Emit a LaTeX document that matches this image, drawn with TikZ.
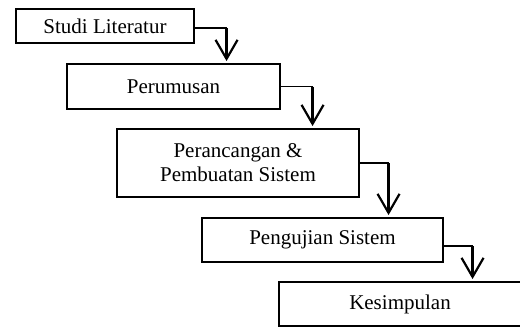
\documentclass[tikz,border=0pt]{standalone}
\usepackage{fontspec}
\setmainfont{Liberation Serif}
\usetikzlibrary{positioning,arrows.meta,calc}

\begin{document}
\begin{tikzpicture}[
    x=0.5pt, y=-0.5pt,
    box/.style={draw, line width=0.55pt, inner sep=0pt, align=center, minimum height=22pt, font=\fontsize{10.5}{12}\selectfont},
    link/.style={line width=0.55pt},
    arr/.style={-{Straight Barb[length=9.5pt, width=11pt, line width=1.1pt]}, line width=1.1pt, shorten >=1.2pt}
]
\useasboundingbox (0,0) rectangle (520,327);
\node[box, minimum width=89pt, minimum height=17pt] (lit) at (105,26) {Studi Literatur};
\node[box, minimum width=106.5pt, minimum height=22.5pt] (rum) at (173.5,86.5) {Perumusan};
\node[box, minimum width=121pt, minimum height=34pt] (ran) at (238,163) {Perancangan \&\\Pembuatan Sistem};
\node[box, minimum width=120.5pt] (uji) at (322.5,240) {Pengujian Sistem};
\node[box, minimum width=121pt] (kes) at (400,304) {Kesimpulan};
% connectors
\draw[link] ([yshift=-1pt]lit.east) -- ++(32,0) coordinate (t1);
\draw[arr] (t1) -- (t1 |- rum.north);
\draw[link] (rum.east) -- ++(32,0) coordinate (t2);
\draw[arr] (t2) -- (t2 |- ran.north);
\draw[link] (ran.east) -- ++(29,0) coordinate (t3);
\draw[arr] (t3) -- (t3 |- uji.north);
\draw[link] ([yshift=-3pt]uji.east) -- ++(29,0) coordinate (t4);
\draw[arr] (t4) -- (t4 |- kes.north);
\end{tikzpicture}
\end{document}
